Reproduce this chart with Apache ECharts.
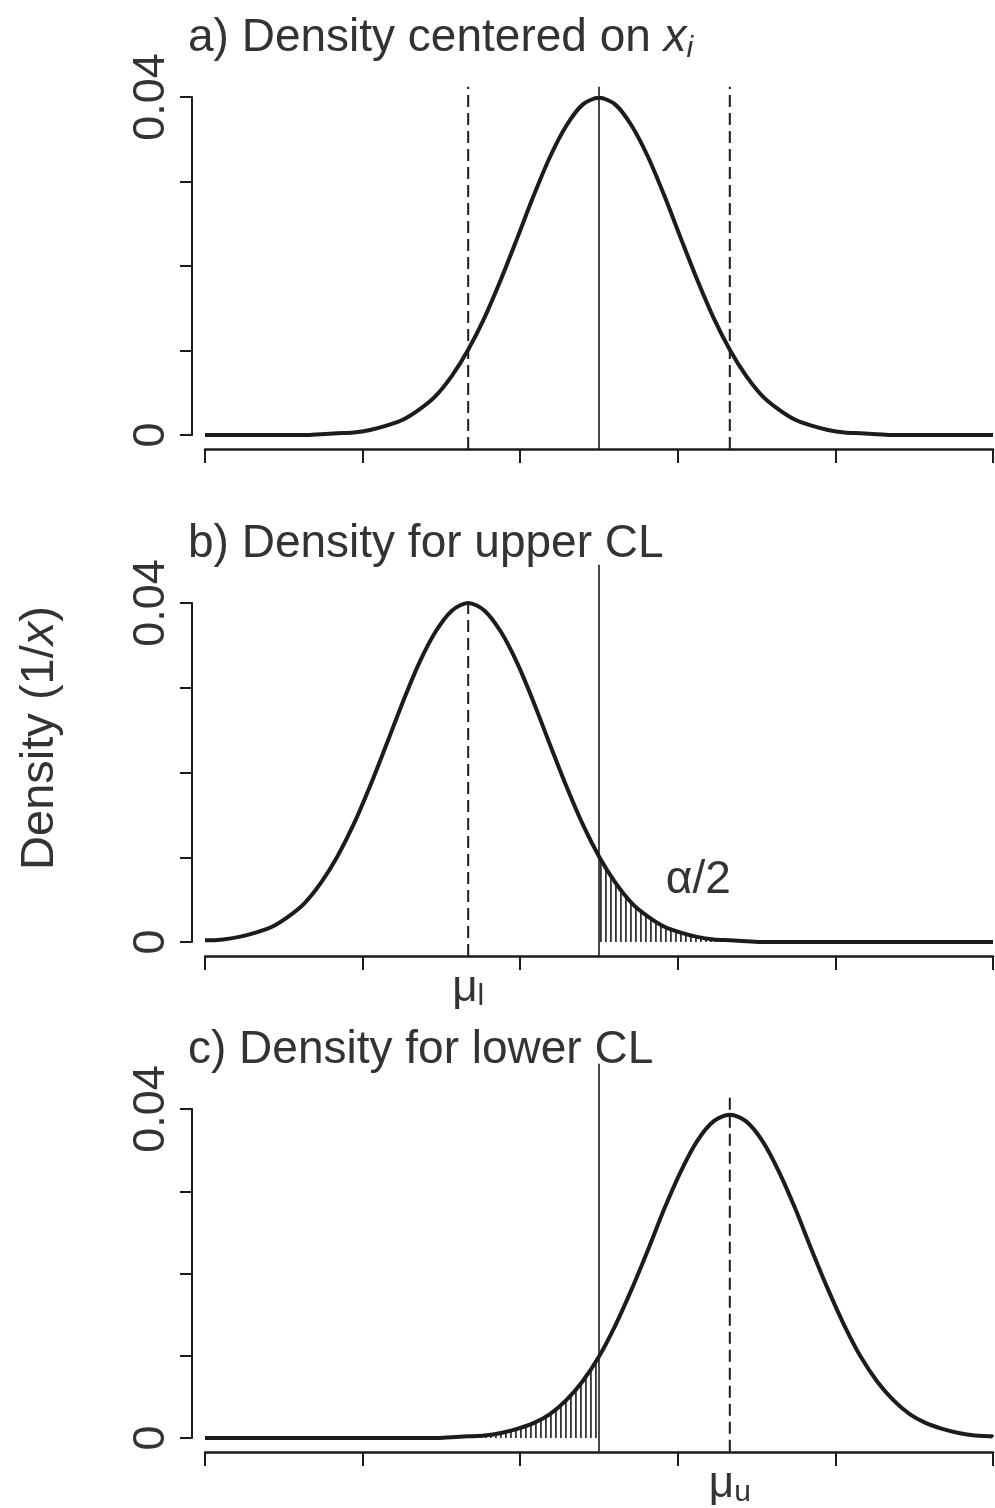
<!DOCTYPE html>
<html>
<head>
<meta charset="utf-8">
<script src="https://cdn.jsdelivr.net/npm/echarts@6/dist/echarts.min.js"></script>
<style>
  html, body { margin: 0; padding: 0; background: #fff; }
  #chart { width: 995px; height: 1508px; }
</style>
</head>
<body>
<div id="chart"></div>
<script>
// x positions where the densities were read off (shared by all panels;
// spaced so that mu_l, x_i and mu_u each fall on a sample)
const xs = [0, 0.2, 2.275, 4.35, 6.425, 8.5, 10.575, 12.65, 14.725, 16.8, 18.875, 20.95,
  23.025, 25.1, 27.175, 29.25, 31.325, 33.4, 35.475, 37.55, 39.625, 41.7, 43.775, 45.85,
  47.925, 50, 52.075, 54.15, 56.225, 58.3, 60.375, 62.45, 64.525, 66.6, 68.675, 70.75,
  72.825, 74.9, 76.975, 79.05, 81.125, 83.2, 85.275, 87.35, 89.425, 91.5, 93.575, 95.65,
  97.725, 99.8, 100];

// a) density centred on x_i
const densA = [0, 0, 0, 0, 0, 0, 0, 0, 0.0001, 0.0002, 0.0003, 0.0006, 0.0011, 0.0018,
  0.0030, 0.0046, 0.0070, 0.0101, 0.0139, 0.0184, 0.0233, 0.0283, 0.0329, 0.0366, 0.0391,
  0.0399, 0.0391, 0.0366, 0.0329, 0.0283, 0.0233, 0.0184, 0.0139, 0.0101, 0.0070, 0.0046,
  0.0030, 0.0018, 0.0011, 0.0006, 0.0003, 0.0002, 0.0001, 0, 0, 0, 0, 0, 0, 0, 0];

// b) density for the upper CL (centred on mu_l)
const densB = [0.0002, 0.0002, 0.0003, 0.0006, 0.0011, 0.0018, 0.0030, 0.0046, 0.0070,
  0.0101, 0.0139, 0.0184, 0.0233, 0.0283, 0.0329, 0.0366, 0.0391, 0.0400, 0.0391, 0.0366,
  0.0329, 0.0283, 0.0233, 0.0184, 0.0139, 0.0101, 0.0070, 0.0046, 0.0030, 0.0018, 0.0011,
  0.0006, 0.0003, 0.0002, 0.0001, 0, 0, 0, 0, 0, 0, 0, 0, 0, 0, 0, 0, 0, 0, 0, 0];

// c) density for the lower CL (centred on mu_u)
const densC = [0, 0, 0, 0, 0, 0, 0, 0, 0, 0, 0, 0, 0, 0, 0, 0, 0.0001, 0.0002, 0.0003,
  0.0006, 0.0011, 0.0018, 0.0029, 0.0046, 0.0069, 0.0099, 0.0137, 0.0181, 0.0229, 0.0279,
  0.0324, 0.0361, 0.0385, 0.0393, 0.0385, 0.0361, 0.0324, 0.0279, 0.0229, 0.0181, 0.0137,
  0.0099, 0.0069, 0.0046, 0.0029, 0.0018, 0.0011, 0.0006, 0.0003, 0.0002, 0.0001];

const xTicks = [0, 20, 40, 60, 80, 100];
const yLabels = [0, 0.04];
const xi = 50;      // observed value
const muL = 33.4;   // lower CL
const muU = 66.6;   // upper CL

const font = 'Liberation Sans, Arial, Helvetica, sans-serif';
const ink = '#1c1c1c';
const textInk = '#333';

const pairs = d => xs.map((x, i) => [x, d[i]]);

// vertical hatching for the alpha/2 tails
const hatch = document.createElement('canvas');
hatch.width = 5;
hatch.height = 5;
const hctx = hatch.getContext('2d');
hctx.fillStyle = 'rgba(30,30,30,0.9)';
hctx.fillRect(0, 0, 1.8, 5);

const grids = [
  { left: 205, right: 2, top: 97, height: 338 },
  { left: 205, right: 2, top: 603, height: 339 },
  { left: 205, right: 2, top: 1109, height: 336 }
];

const axisBottom = -0.00166; // level of the offset x axis line, in y units

function xAxisFor(gi, labelAt, labelText) {
  return {
    gridIndex: gi, type: 'value', min: 0, max: 100, offset: 14,
    axisLine: { show: true, onZero: false, lineStyle: { color: ink, width: 2.5 } },
    axisTick: { show: true, length: 14, customValues: xTicks, lineStyle: { color: ink, width: 2 } },
    splitLine: { show: false },
    axisLabel: labelAt == null ? { show: false } : {
      show: true, customValues: [labelAt], margin: 10,
      formatter: () => labelText,
      color: textInk, fontFamily: font, fontSize: 44,
      rich: {
        m: { fontSize: 44, fontFamily: font, color: textInk, lineHeight: 46 },
        s: { fontSize: 30, fontFamily: font, color: textInk, lineHeight: 22, verticalAlign: 'bottom' }
      }
    }
  };
}

function yAxisFor(gi) {
  return {
    gridIndex: gi, type: 'value', min: 0, max: 0.04, interval: 0.01, offset: 13,
    axisLine: { show: true, onZero: false, lineStyle: { color: ink, width: 2 } },
    axisTick: { show: true, length: 12, lineStyle: { color: ink, width: 2 } },
    splitLine: { show: false },
    axisLabel: {
      customValues: yLabels, rotate: 90, margin: 18,
      fontSize: 45, fontFamily: font, color: textInk,
      formatter: v => (v === 0 ? '0' : String(v))
    }
  };
}

function curve(gi, data) {
  return {
    type: 'line', xAxisIndex: gi, yAxisIndex: gi, data: pairs(data),
    smooth: 0.3, showSymbol: false, silent: true, z: 5,
    lineStyle: { color: ink, width: 4 }
  };
}

function tail(gi, data, keep) {
  return {
    type: 'line', xAxisIndex: gi, yAxisIndex: gi,
    data: pairs(data).filter(p => keep(p[0])),
    smooth: 0.3, showSymbol: false, silent: true, z: 3,
    lineStyle: { width: 0 },
    areaStyle: { color: { image: hatch, repeat: 'repeat' }, opacity: 1 }
  };
}

function vline(gi, x, top, dashed, width) {
  return {
    type: 'line', xAxisIndex: gi, yAxisIndex: gi, clip: false,
    data: [[x, axisBottom], [x, top]], showSymbol: false, silent: true, z: 4,
    lineStyle: { color: ink, width: width, type: dashed ? [12, 6] : 'solid' }
  };
}

const titleText = [
  'a) Density centered on {x|x}{i|i}',
  'b) Density for upper CL',
  'c) Density for lower CL'
];
const titleTops = [12, 518, 1024];

const chart = echarts.init(document.getElementById('chart'), null, { renderer: 'canvas' });
chart.setOption({
  animation: false,
  backgroundColor: '#fff',
  title: titleText.map((t, i) => ({
    text: t, left: 188, top: titleTops[i], padding: 0,
    textStyle: {
      fontSize: 46, fontWeight: 'normal', fontFamily: font, color: textInk, lineHeight: 52,
      rich: {
        x: { fontSize: 46, fontStyle: 'italic', fontFamily: font, color: textInk, lineHeight: 52 },
        i: { fontSize: 30, fontStyle: 'italic', fontFamily: font, color: textInk, lineHeight: 22, verticalAlign: 'bottom' }
      }
    }
  })),
  grid: grids,
  xAxis: [
    xAxisFor(0, null, ''),
    xAxisFor(1, muL, '{m|μ}{s|l}'),
    xAxisFor(2, muU, '{m|μ}{s|u}')
  ],
  yAxis: [yAxisFor(0), yAxisFor(1), yAxisFor(2)],
  graphic: [{
    type: 'text', x: 40, y: 738, rotation: Math.PI / 2,
    style: {
      text: 'Density (1/{x|x})', fontSize: 47, fontFamily: font, fill: textInk,
      align: 'center', verticalAlign: 'middle',
      rich: { x: { fontSize: 47, fontFamily: font, fontStyle: 'italic', fill: textInk } }
    }
  }],
  series: [
    curve(0, densA),
    vline(0, muL, 0.0412, true, 2),
    vline(0, xi, 0.0412, false, 1.6),
    vline(0, muU, 0.0412, true, 2),

    tail(1, densB, x => x >= xi),
    curve(1, densB),
    vline(1, muL, 0.0400, true, 2),
    vline(1, xi, 0.0445, false, 1.6),
    {
      type: 'scatter', xAxisIndex: 1, yAxisIndex: 1, data: [[62.6, 0.0073]],
      symbolSize: 0, silent: true, itemStyle: { opacity: 1 },
      label: { show: true, position: 'inside', formatter: 'α/2', fontSize: 46, fontFamily: font, color: textInk }
    },

    tail(2, densC, x => x <= xi),
    curve(2, densC),
    vline(2, xi, 0.0455, false, 1.6),
    vline(2, muU, 0.0415, true, 2)
  ]
});
</script>
</body>
</html>
